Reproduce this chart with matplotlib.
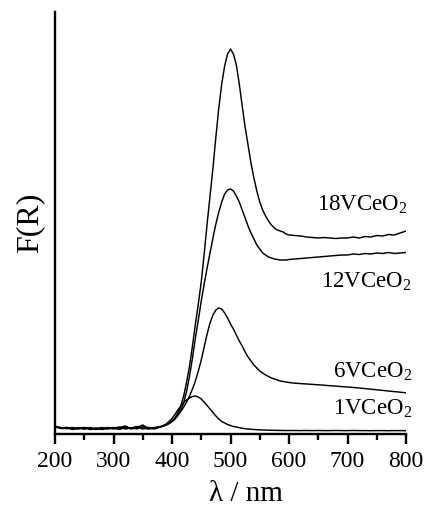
import matplotlib
matplotlib.use('Agg')
import matplotlib.pyplot as plt
from matplotlib.ticker import MultipleLocator

plt.rcParams['font.family'] = ['Liberation Serif', 'DejaVu Serif']
plt.rcParams['mathtext.fontset'] = 'custom'
plt.rcParams['mathtext.rm'] = 'Liberation Serif'
plt.rcParams['mathtext.it'] = 'Liberation Serif:italic'

# ---------------- data ----------------
wavelength = ([200, 210, 220, 230, 240, 250, 260, 270, 280, 290, 300, 310, 320, 330, 340, 350, 360, 370]
              + list(range(380, 601, 5))
              + list(range(610, 801, 10)))

v18 = [8, 6, 6.5, 5, 6.5, 5, 6.5, 5, 5.5, 6.5, 5, 6.5, 8, 5, 6.5, 9, 5.5, 6.5,
       7, 8, 9, 11, 13, 16, 21, 28, 38, 52, 68, 88, 110, 130, 152, 180, 210, 238, 266, 297,
       326, 350, 368, 380, 385, 380, 369, 350, 328, 307, 289, 271, 256, 243, 232, 224, 218,
       213, 209, 206, 204, 203, 202, 200, 199,
       198.5, 198, 197, 196.5, 196, 196.5, 196, 195.5, 196, 196, 197, 196, 197.5, 197, 198.5,
       198, 199.5, 199, 201, 203]

v12 = [7, 5.5, 5.5, 6.5, 5, 6.5, 5, 6, 4.5, 5.5, 6.5, 5, 7, 6, 5, 7.5, 6, 5,
       7, 8, 9, 10.5, 12.5, 15, 19, 24, 31, 43, 58, 76, 96, 114, 133, 150, 166, 181, 196, 210,
       222, 232, 240, 244, 245, 243, 238, 232, 224, 216, 208, 201, 195, 189, 185, 181, 179,
       177, 176, 175, 174.5, 174, 174, 174, 174.5,
       175, 175.5, 176, 176.5, 177, 177.5, 178, 178.5, 179, 179, 180, 179.5, 180.5, 180, 181,
       180.5, 181.5, 180.5, 181, 181.5]

v6 = [7.5, 6, 6.5, 4.5, 5.5, 6.5, 4.5, 5.5, 6.5, 5, 6, 7, 5, 6, 7.5, 5, 6.5, 6,
      7, 8, 9, 10.5, 12.5, 15, 18.5, 22.5, 27, 32, 38, 45, 53, 63, 74, 87, 100, 111, 119, 124,
      126, 125, 121, 116, 110, 105, 99, 93, 88, 82, 77, 73, 69, 66, 63, 61, 59,
      57.5, 56, 55, 54, 53, 52.5, 52, 51.5,
      50.8, 50.4, 50, 49.6, 49.2, 48.8, 48.3, 47.9, 47.4, 47, 46.5, 46, 45.4, 44.8, 44.2,
      43.6, 43, 42.4, 41.8, 41.2]

v1 = [7, 6.5, 5.5, 5.5, 6, 5, 6, 4.5, 5.5, 6, 6, 4.5, 6.5, 5.5, 6.5, 6, 5, 6,
      7.5, 8.5, 10, 12.5, 15.5, 19.5, 24, 28, 31.5, 34, 36, 37.5, 38, 37, 35, 32, 28.5, 25,
      21.5, 18, 15, 12.5, 11, 9.5, 8.5, 7.5, 7, 6.3, 5.8, 5.3, 5, 4.7, 4.5, 4.3, 4.1,
      4, 3.9, 3.8, 3.7, 3.7, 3.6, 3.6, 3.5, 3.5, 3.5,
      3.5, 3.4, 3.5, 3.4, 3.5, 3.4, 3.4, 3.5, 3.4, 3.4, 3.5, 3.4, 3.4, 3.3, 3.4,
      3.4, 3.3, 3.4, 3.4, 3.3]

series = [v18, v12, v6, v1]
labels = [r'18VCeO$_2$', r'12VCeO$_2$', r'6VCeO$_2$', r'1VCeO$_2$']
xticks = [200, 300, 400, 500, 600, 700, 800]

# ---------------- figure ----------------
fig = plt.figure(figsize=(4.28, 5.15), dpi=100)
ax = fig.add_axes([55 / 428, 81 / 515, 351 / 428, 422 / 515])

for vals in series:
    ax.plot(wavelength, vals, color='black', lw=1.05)

ax.set_xlim(200, 800)
ax.set_ylim(0, 422)

for s in ['top', 'right']:
    ax.spines[s].set_visible(False)
for s in ['left', 'bottom']:
    ax.spines[s].set_linewidth(1.7)

ax.set_yticks([])
ax.set_xticks(xticks)
ax.xaxis.set_minor_locator(MultipleLocator(50))
ax.tick_params(axis='x', which='major', direction='out', length=7.5, width=1.7,
               labelsize=17, pad=5)
ax.tick_params(axis='x', which='minor', direction='out', length=4.5, width=1.7)

ax.set_xlabel('λ / nm', fontsize=21)
ax.xaxis.set_label_coords(0.544, -0.112)
ax.set_ylabel('F(R)', fontsize=23, labelpad=8)

label_pos = [(803, 223), (810, 146), (810, 56), (810, 19)]
for (x, y), t in zip(label_pos, labels):
    ax.text(x, y, t, fontsize=16.5, ha='right', va='baseline', clip_on=False)

fig.savefig('out.png', dpi=100)
